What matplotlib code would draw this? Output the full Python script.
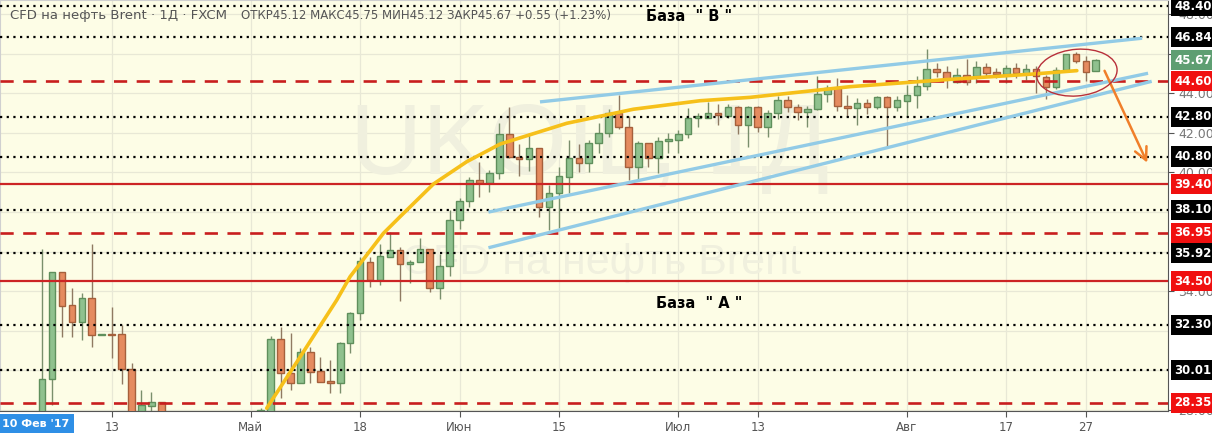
import numpy as np
import matplotlib as mpl
mpl.use('Agg')
import matplotlib.pyplot as plt
from matplotlib.patches import Ellipse
from matplotlib.transforms import blended_transform_factory

nan = np.nan
# daily OHLC, bar index 0..106 (13..21 not visible on the chart)
opens = [27.0, 29.54, 34.95, 33.28, 32.42, 33.64, 31.77, 31.80, 31.82, 30.05, 27.95, 28.21, 28.38,
         nan, nan, nan, nan, nan, nan, nan, nan, nan,
         27.95, 27.8, 31.56, 29.84, 29.34, 30.94, 29.96, 29.46, 29.34, 31.36, 32.88, 35.49, 34.56, 35.74,
         36.08, 35.35, 35.46, 36.11, 34.14, 35.27, 37.59, 38.55, 39.61, 39.48, 39.95, 41.94, 40.76, 40.66,
         41.22, 38.27, 38.94, 39.78, 40.71, 40.49, 41.47, 41.97, 42.98, 42.31, 40.29, 41.47, 40.71, 41.60,
         41.64, 41.94, 42.77, 42.73, 43.02, 42.85, 43.29, 42.39, 43.29, 42.28, 42.98, 43.66, 43.29, 43.07,
         43.19, 43.96, 44.25, 43.35, 43.24, 43.49, 43.29, 43.79, 43.29, 43.62, 43.91, 44.36, 45.21, 45.09,
         44.58, 44.92, 44.87, 45.31, 45.06, 44.96, 45.26, 44.97, 45.21, 44.83, 44.30, 45.17, 45.98, 45.64,
         45.12]
highs = [36.11, 34.98, 34.95, 34.14, 33.89, 36.38, 31.79, 33.21, 32.29, 30.35, 29.0, 28.89, 28.38,
         nan, nan, nan, nan, nan, nan, nan, nan, nan,
         28.1, 31.73, 32.20, 31.87, 31.11, 31.19, 30.66, 30.52, 31.44, 32.95, 35.74, 35.71, 36.38, 37.00,
         36.24, 35.57, 36.67, 36.11, 35.88, 38.10, 38.69, 39.78, 40.54, 40.12, 42.48, 43.32, 41.43, 41.97,
         41.22, 39.36, 40.26, 41.64, 41.43, 41.64, 42.48, 43.19, 43.91, 42.85, 41.60, 41.47, 41.80, 42.00,
         42.14, 43.24, 42.98, 43.57, 43.45, 43.45, 43.35, 43.35, 43.35, 43.15, 43.86, 43.86, 43.45, 43.35,
         44.87, 44.41, 44.75, 43.91, 43.74, 43.70, 43.86, 43.86, 43.86, 44.41, 44.87, 46.22, 45.54, 45.35,
         45.26, 45.71, 45.64, 45.54, 45.26, 45.43, 45.54, 45.48, 45.35, 44.92, 45.34, 45.98, 46.10, 45.88,
         45.75]
lows = [26.5, 28.24, 31.70, 31.70, 31.53, 31.19, 31.77, 30.60, 29.31, 27.0, 27.5, 27.6, 27.0,
        nan, nan, nan, nan, nan, nan, nan, nan, nan,
        27.8, 27.5, 28.58, 29.0, 29.34, 29.34, 29.42, 28.84, 28.84, 30.89, 32.54, 34.19, 34.31, 35.71,
        33.52, 34.43, 35.46, 33.94, 33.59, 34.78, 37.14, 38.23, 38.77, 39.02, 39.68, 40.71, 39.82, 40.08,
        37.76, 37.09, 37.17, 38.94, 40.03, 40.03, 40.99, 41.80, 42.18, 39.61, 39.61, 40.26, 39.98, 40.96,
        40.99, 41.72, 42.28, 42.73, 42.39, 42.73, 41.94, 41.30, 42.06, 41.77, 42.68, 43.07, 42.65, 42.31,
        43.15, 43.57, 43.12, 42.78, 42.39, 42.95, 43.20, 41.33, 43.10, 42.85, 43.24, 44.16, 44.83, 44.25,
        44.50, 44.41, 44.50, 44.83, 44.75, 44.50, 44.75, 44.67, 43.99, 43.69, 44.20, 45.17, 45.51, 44.63,
        45.12]
closes = [29.54, 34.95, 33.26, 32.42, 33.64, 31.77, 31.79, 31.76, 30.05, 27.5, 28.24, 28.38, 27.6,
          nan, nan, nan, nan, nan, nan, nan, nan, nan,
          27.97, 31.56, 29.84, 29.34, 30.94, 29.93, 29.42, 29.34, 31.36, 32.88, 35.52, 34.56, 35.77, 36.08,
          35.35, 35.46, 36.11, 34.14, 35.27, 37.59, 38.55, 39.61, 39.45, 39.98, 41.94, 40.76, 40.66, 41.22,
          38.27, 38.94, 39.82, 40.71, 40.49, 41.47, 41.97, 42.98, 42.31, 40.29, 41.47, 40.71, 41.60, 41.67,
          41.94, 42.73, 42.80, 43.02, 42.90, 43.29, 42.39, 43.29, 42.28, 42.98, 43.66, 43.29, 43.07, 43.19,
          43.96, 44.25, 43.35, 43.24, 43.49, 43.29, 43.79, 43.29, 43.66, 43.91, 44.36, 45.21, 45.09, 44.70,
          44.92, 44.58, 45.31, 45.04, 44.96, 45.26, 45.01, 45.21, 44.87, 44.30, 45.17, 45.98, 45.64, 45.09,
          45.67]

tick_pos = [7, 21, 32, 42, 52, 64, 72, 87, 97, 105]
tick_lbl = ['13', 'Май', '18', 'Июн', '15', 'Июл', '13', 'Авг', '17', '27']
# price scale labels that peek out from under the level boxes
price_ticks = [28, 34, 40, 42, 44, 46, 48]

dotted_levels = [48.40, 46.84, 42.80, 40.80, 38.10, 35.92, 32.30, 30.01]
dashed_levels = [44.60, 36.95, 28.35]
solid_levels = [39.40, 34.50]
last_price = 45.67

# hand-drawn curve and trend lines (bar index, price)
curve_x = [22.6, 25.96, 29.65, 30.99, 34.34, 36.02, 39.37, 42.73, 46.08, 52.79, 59.49, 66.2, 71.23, 81.29, 91.35, 99.73, 104.1]
curve_y = [28.08, 30.67, 33.55, 34.73, 36.92, 37.76, 39.41, 40.54, 41.43, 42.48, 43.19, 43.62, 43.79, 44.33, 44.70, 44.97, 45.14]
trend_lines = [((50.26, 110.5), (43.57, 46.77)),
               ((45.07, 111.1), (38.01, 44.99)),
               ((45.07, 111.47), (36.21, 44.58))]

bg = '#fdfde6'
fig = plt.figure(figsize=(12.12, 4.37), dpi=100)
fig.patch.set_facecolor('white')
ax = fig.add_axes([0, 26/437, 1168/1212, 411/437])
ax.set_facecolor(bg)
ax.set_xlim(-4.23, 113.27)
ax.set_ylim(27.94, 48.71)

# grid
for t in tick_pos:
    ax.axvline(t, color='#e8e8d6', lw=0.9, zorder=0)
for p in np.arange(28, 49, 2):
    ax.axhline(p, color='#e8e8d6', lw=0.9, zorder=0)

# watermark
ax.text(0.505, 0.64, 'UKOIL, 1Д', transform=ax.transAxes, ha='center', va='center',
        fontsize=72, color='#f0f0de', family='Liberation Sans', zorder=0.5)
ax.text(0.515, 0.36, 'CFD на нефть Brent', transform=ax.transAxes, ha='center', va='center',
        fontsize=31, color='#f0f0de', family='Liberation Sans', zorder=0.5)

# candles
o = np.array(opens); h = np.array(highs); l = np.array(lows); c = np.array(closes)
idx = np.arange(len(o))
up = c >= o
gfill, gedge = '#8fc18e', '#5f8f5c'
rfill, redge = '#e58b5f', '#a5603c'
ax.vlines(idx[up], l[up], h[up], color='#7a8f6c', lw=1, zorder=2)
ax.vlines(idx[~up], l[~up], h[~up], color='#8f7a62', lw=1, zorder=2)
body_lo = np.minimum(o, c)
body_h = np.maximum(np.abs(c - o), 0.06)
ax.bar(idx[up], body_h[up], bottom=body_lo[up], width=0.66, color=gfill, edgecolor=gedge, lw=1, zorder=3)
ax.bar(idx[~up], body_h[~up], bottom=body_lo[~up], width=0.66, color=rfill, edgecolor=redge, lw=1, zorder=3)

# levels
for lv in dotted_levels:
    ax.axhline(lv, color='black', lw=1.6, ls=(0, (1, 2)), zorder=4)
for lv in dashed_levels:
    ax.axhline(lv, color='#c81e1e', lw=1.9, ls=(0, (5, 3.6)), zorder=4)
for lv in solid_levels:
    ax.axhline(lv, color='#cc2424', lw=1.6, zorder=4)

# drawings
ax.plot(curve_x, curve_y, color='#f6c01a', lw=2.6, solid_capstyle='round', zorder=5)
for xs, ys in trend_lines:
    ax.plot(xs, ys, color='#92cbe6', lw=2.4, zorder=5)
ax.annotate('', xy=(111.3, 40.36), xytext=(106.77, 45.26),
            arrowprops=dict(arrowstyle='->,head_length=0.9,head_width=0.45', color='#f07f2a', lw=1.8),
            zorder=6)
ax.add_patch(Ellipse((104.1, 45.04), 8.1, 2.36, angle=2, fill=False, ec='#b8303a', lw=1, zorder=6))

# texts
ax.text(0.0085, 0.962, 'CFD на нефть Brent · 1Д · FXCM', transform=ax.transAxes,
        fontsize=9.5, color='#555555', va='center')
ax.text(0.206, 0.962, 'ОТКР45.12 МАКС45.75 МИН45.12 ЗАКР45.67 +0.55 (+1.23%)', transform=ax.transAxes,
        fontsize=8.5, color='#555555', va='center')
ax.text(0.553, 0.96, 'База  " B "', transform=ax.transAxes, fontsize=10.5, fontweight='bold',
        color='black', va='center')
ax.text(0.562, 0.262, 'База  " A "', transform=ax.transAxes, fontsize=10.5, fontweight='bold',
        color='black', va='center')

# axes styling
for s in ['top', 'left']:
    ax.spines[s].set_color('#d0d0d0')
ax.spines['right'].set_color('#555555')
ax.spines['bottom'].set_color('#555555')
ax.yaxis.tick_right()
ax.set_yticks(price_ticks)
ax.set_yticklabels(['%.2f' % v for v in price_ticks])
ax.tick_params(axis='y', colors='#555555', labelcolor='#777777', labelsize=9, length=4)
ax.set_xticks(tick_pos)
ax.set_xticklabels(tick_lbl)
ax.tick_params(axis='x', colors='#555555', labelcolor='#555555', labelsize=8.5, length=4)

tr = blended_transform_factory(ax.transAxes, ax.transData)
def price_box(v, col):
    ax.text(1.0055, v, '%.2f' % v, transform=tr, ha='left', va='center', fontsize=8.5,
            fontweight='bold', color='white', clip_on=False, zorder=10,
            bbox=dict(boxstyle='square,pad=0.3', fc=col, ec='none'))

for lv in dotted_levels:
    price_box(lv, 'black')
for lv in dashed_levels + solid_levels:
    price_box(lv, '#f01010')
price_box(last_price, '#5e9e72')

fig.text(0.002, 0.03, "10 Фев '17", fontsize=8, fontweight='bold', color='white', va='center',
         bbox=dict(boxstyle='square,pad=0.4', fc='#2e8fe6', ec='none'))

fig.savefig('out.png', dpi=100, facecolor='white')
